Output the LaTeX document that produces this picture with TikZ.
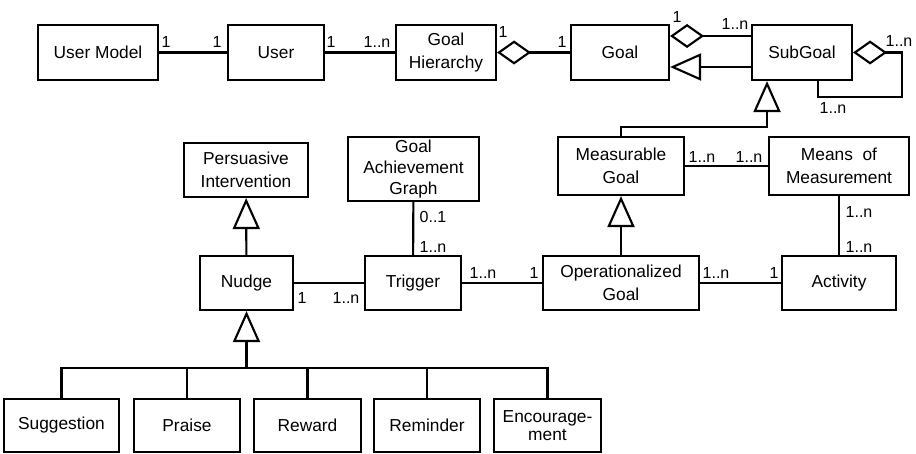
\documentclass[tikz,border=0pt]{standalone}
\usepackage{fontspec}
\setmainfont{Liberation Sans}
\usetikzlibrary{arrows.meta}
\newdimen\pxu
\pxu=0.75pt
\begin{document}
\begin{tikzpicture}[x=0.75pt,y=-0.75pt,
  line width=1.6pt,
  box/.style={draw, rectangle, inner sep=0pt, align=center,
    font=\fontsize{13}{17}\selectfont},
  mult/.style={inner sep=0pt, font=\fontsize{12}{14}\selectfont},
  inh/.style={-{Triangle[open,length=23.25pt,width=20.25pt]}},
  aggr/.style={{Diamond[open,length=25.5pt,width=18pt]}-}
]
\useasboundingbox (0,0) rectangle (916,453);

% top row
\node[box, minimum width=120\pxu, minimum height=55\pxu] (usermodel) at (98,52.5) {User Model};
\node[box, minimum width=96\pxu,  minimum height=55\pxu] (user)      at (276,52.5) {User};
\node[box, minimum width=100\pxu, minimum height=55\pxu] (goalhier)  at (446,52.5) {Goal\\Hierarchy};
\node[box, minimum width=98\pxu,  minimum height=55\pxu] (goal)      at (620,52.5) {Goal};
\node[box, minimum width=100\pxu, minimum height=55\pxu] (subgoal)   at (802,52.5) {SubGoal};

% middle row
\node[box, minimum width=124\pxu, minimum height=54\pxu] (persuasive) at (246,170) {Persuasive\\Intervention};
\node[box, minimum width=131\pxu, minimum height=64\pxu, font=\fontsize{13}{15.5}\selectfont] (gag) at (413.5,169) {Goal\\Achievement\\Graph};
\node[box, minimum width=126\pxu, minimum height=58\pxu] (measgoal) at (621,166) {Measurable\\Goal};
\node[box, minimum width=140\pxu, minimum height=58\pxu] (means)    at (839,166) {Means~~of\\Measurement};

% lower row
\node[box, minimum width=93\pxu,  minimum height=54\pxu] (nudge)    at (246.5,283) {Nudge};
\node[box, minimum width=96\pxu,  minimum height=54\pxu] (trigger)  at (413,283) {Trigger};
\node[box, minimum width=156\pxu, minimum height=54\pxu] (opgoal)   at (621,283) {Operationalized\\Goal};
\node[box, minimum width=114\pxu, minimum height=54\pxu] (activity) at (839,283) {Activity};

% nudge kinds
\node[box, minimum width=115\pxu, minimum height=53\pxu] (suggestion) at (61.5,425.5) {Suggestion};
\node[box, minimum width=106\pxu, minimum height=53\pxu] (praise)     at (187,425.5) {Praise};
\node[box, minimum width=107\pxu, minimum height=53\pxu] (reward)     at (307.5,425.5) {Reward};
\node[box, minimum width=106\pxu, minimum height=53\pxu] (reminder)   at (427,425.5) {Reminder};
\node[box, minimum width=107\pxu, minimum height=53\pxu, font=\fontsize{13}{13.5}\selectfont] (encouragement) at (547.5,425.5) {Encourage-\\ment};

% associations
\draw (usermodel) -- (user);
\draw (user) -- (goalhier);
\draw[aggr] (goalhier) -- (goal);
\draw[aggr] ([yshift=16.5\pxu]goal.east) -- ([yshift=16.5\pxu]subgoal.west);
\draw[inh] ([yshift=-14.5\pxu]subgoal.west) -- ([yshift=-14.5\pxu]goal.east);
\draw[aggr] (subgoal.east) -- ++(49\pxu,0) |- ([xshift=16\pxu,yshift=-16\pxu]subgoal.south) -- ([xshift=16\pxu]subgoal.south);
\draw[inh] (measgoal.north) |- ([xshift=-35\pxu,yshift=-46\pxu]subgoal.south) -- ([xshift=-35\pxu]subgoal.south);
\draw (measgoal) -- (means);
\draw[inh] (opgoal) -- (measgoal);
\draw (means) -- (activity);
\draw (opgoal) -- (activity);
\draw (trigger) -- (opgoal);
\draw (nudge) -- (trigger);
\draw (gag) -- (trigger);
\draw[inh] (nudge) -- (persuasive);

% generalisation bar under Nudge
\coordinate (bar) at (246.5,368);
\draw[inh] (bar) -- (nudge.south);
\draw (suggestion.north) |- (bar);
\draw (praise.north) |- (bar);
\draw (reward.north) |- (bar);
\draw (reminder.north) |- (bar);
\draw (encouragement.north) |- (bar);

% multiplicities
\node[mult] (m1)  at (166,42) {1};
\node[mult] (m2)  at (217,42) {1};
\node[mult] (m3)  at (331,42) {1};
\node[mult] (m4)  at (377,42) {1..n};
\node[mult] (m5)  at (503,32) {1};
\node[mult] (m6)  at (562,42) {1};
\node[mult] (m7)  at (677,17) {1};
\node[mult] (m8)  at (735,24) {1..n};
\node[mult] (m9)  at (899,41) {1..n};
\node[mult] (m10) at (833,108) {1..n};
\node[mult] (m11) at (702,157) {1..n};
\node[mult] (m12) at (749,157) {1..n};
\node[mult] (m13) at (859,212) {1..n};
\node[mult] (m14) at (859,247) {1..n};
\node[mult] (m15) at (716,273) {1..n};
\node[mult] (m16) at (774,273) {1};
\node[mult] (m17) at (483,273) {1..n};
\node[mult] (m18) at (534,273) {1};
\node[mult] (m19) at (302,298) {1};
\node[mult] (m20) at (346,298) {1..n};
\node[mult] (m21) at (433,217) {0..1};
\node[mult] (m22) at (433,247) {1..n};
\end{tikzpicture}
\end{document}
